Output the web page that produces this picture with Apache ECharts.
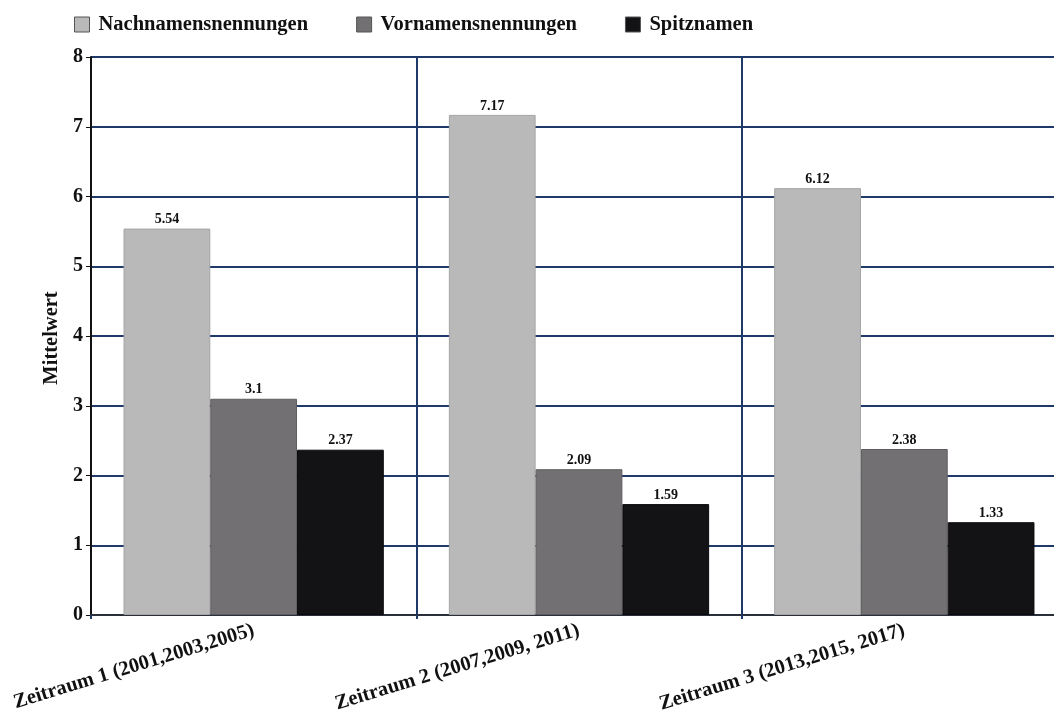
<!DOCTYPE html>
<html>
<head>
<meta charset="utf-8">
<script src="https://cdn.jsdelivr.net/npm/echarts@6/dist/echarts.min.js"></script>
<style>
  html, body { margin: 0; padding: 0; background: #ffffff; overflow: hidden; }
  /* the plot area continues a little past the right edge of the window */
  #chart { width: 1070px; height: 725px; }
</style>
</head>
<body>
<div id="chart"></div>
<script>
// Zeiträume (Kategorien)
const categories = [
  'Zeitraum 1 (2001,2003,2005)',
  'Zeitraum 2 (2007,2009, 2011)',
  'Zeitraum 3 (2013,2015, 2017)'
];
// Mittelwerte je Nennungsart
const nachnamen = [5.54, 7.17, 6.12];
const vornamen = [3.1, 2.09, 2.38];
const spitznamen = [2.37, 1.59, 1.33];
const seriesNames = ['Nachnamensnennungen', 'Vornamensnennungen', 'Spitznamen'];
const yTicks = { min: 0, max: 8, interval: 1 };

const FONT = '"Liberation Serif", "Times New Roman", serif';
const NAVY = '#1f3a68';
const colors = ['#b9b9b9', '#737074', '#131316'];
const borders = ['#a4a4a4', '#5f5c60', '#0a0a0c'];

const chart = echarts.init(document.getElementById('chart'));

function barSeries(name, data, i) {
  return {
    name: name,
    type: 'bar',
    data: data,
    barGap: '0%',
    barCategoryGap: '20%',
    itemStyle: { color: colors[i], borderColor: borders[i], borderWidth: 1 },
    label: {
      show: true,
      position: 'top',
      distance: 2,
      fontFamily: FONT,
      fontWeight: 'bold',
      fontSize: 14,
      color: '#111',
      backgroundColor: '#ffffff',
      padding: [1, 4, 0, 4]
    }
  };
}

chart.setOption({
  animation: false,
  backgroundColor: '#ffffff',
  color: colors,
  legend: {
    left: 69,
    top: 9,
    itemWidth: 15,
    itemHeight: 15,
    itemGap: 48,
    icon: 'rect',
    textStyle: { fontFamily: FONT, fontWeight: 'bold', fontSize: 20.5, color: '#111', padding: [0, 0, 0, 4] },
    data: seriesNames.map((n) => ({ name: n, itemStyle: { borderColor: '#555', borderWidth: 1 } }))
  },
  grid: { left: 91, top: 57, right: 3, bottom: 110, containLabel: false },
  xAxis: {
    type: 'category',
    data: categories,
    axisLine: { lineStyle: { color: '#2a2f3a', width: 2 } },
    axisTick: { show: true, length: 4, lineStyle: { color: NAVY, width: 2 } },
    splitLine: { show: true, lineStyle: { color: NAVY, width: 2 } },
    axisLabel: {
      rotate: 17,
      margin: 15,
      fontFamily: FONT,
      fontWeight: 'bold',
      fontSize: 20.5,
      color: '#111'
    }
  },
  yAxis: {
    type: 'value',
    min: yTicks.min,
    max: yTicks.max,
    interval: yTicks.interval,
    name: 'Mittelwert',
    nameLocation: 'middle',
    nameGap: 23,
    nameRotate: 90,
    nameTextStyle: { fontFamily: FONT, fontWeight: 'bold', fontSize: 20.5, color: '#111', padding: [0, 4, 0, 0] },
    axisLine: { show: true, lineStyle: { color: '#111', width: 2 } },
    axisTick: { show: true, length: 5, lineStyle: { color: '#111', width: 1 } },
    splitLine: { show: true, lineStyle: { color: NAVY, width: 2 } },
    axisLabel: { margin: 8, fontFamily: FONT, fontWeight: 'bold', fontSize: 20, color: '#111' }
  },
  series: [
    barSeries(seriesNames[0], nachnamen, 0),
    barSeries(seriesNames[1], vornamen, 1),
    barSeries(seriesNames[2], spitznamen, 2)
  ]
});
</script>
</body>
</html>
